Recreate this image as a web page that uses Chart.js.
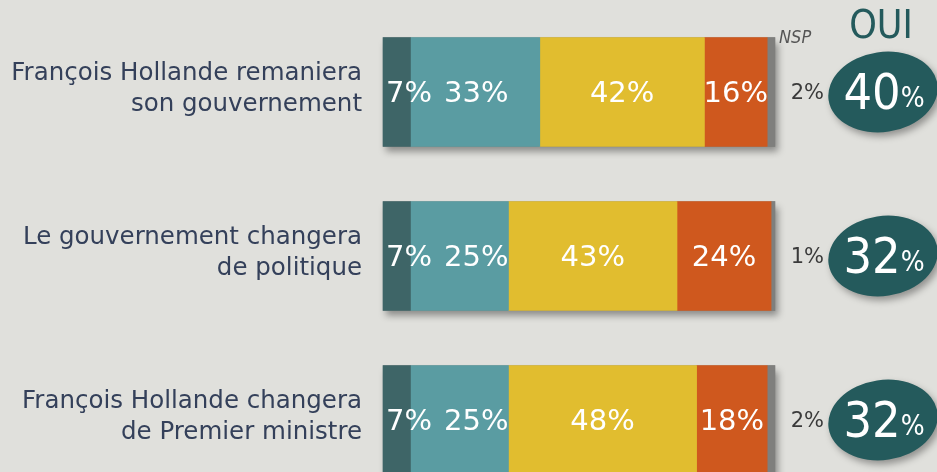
<!DOCTYPE html>
<html>
<head>
<meta charset="utf-8">
<script src="https://cdn.jsdelivr.net/npm/chart.js@4"></script>
<style>
  html, body { margin: 0; padding: 0; background: #e0e0dc; overflow: hidden; }
  #wrap { position: relative; width: 937px; height: 472px; }
</style>
</head>
<body>
<div id="wrap"><canvas id="myChart"></canvas></div>
<script>
// questions (two lines each)
const categories = [
  ['François Hollande remaniera', 'son gouvernement'],
  ['Le gouvernement changera', 'de politique'],
  ['François Hollande changera', 'de Premier ministre']
];
const seriesNames = ['Oui, tout à fait', 'Oui, plutôt', 'Non, plutôt pas', 'Non, pas du tout', 'NSP'];
const toutAFait = [7, 7, 7];
const plutotOui = [33, 25, 25];
const plutotNon = [42, 43, 48];
const pasDuTout = [16, 24, 18];
const nsp = [2, 1, 2];
const oui = [40, 32, 32];
const colors = ['#3e6567', '#5a9ca2', '#e1bd2f', '#cf581e', '#7f7f7d'];

const FONT = '"DejaVu Sans", Verdana, sans-serif';
const FONT_C = '"DejaVu Sans Condensed", "DejaVu Sans", sans-serif';

var
  _shadowPlugin = {
    id: 'barShadow',
    // one shadow behind each whole bar, drawn before the segments
    beforeDatasetsDraw: function (chart) {
      const ctx = chart.ctx;
      const x = chart.scales.x;
      const n = chart.data.datasets.length;
      ctx.save();
      ctx.shadowColor = 'rgba(0,0,0,0.38)';
      ctx.shadowBlur = 7;
      ctx.shadowOffsetX = 3;
      ctx.shadowOffsetY = 5;
      ctx.fillStyle = '#777';
      categories.forEach(function (c, i) {
        const first = chart.getDatasetMeta(0).data[i];
        const last = chart.getDatasetMeta(n - 1).data[i];
        const h = first.height;
        ctx.fillRect(first.base, first.y - h / 2, last.x - first.base, h);
      });
      ctx.restore();
    }
  }
  , _textPlugin = {
    id: 'texts',
    afterDraw: function (chart) {
      const ctx = chart.ctx;
      const x = chart.scales.x, y = chart.scales.y;
      ctx.save();
      // headers
      ctx.fillStyle = '#555555';
      ctx.font = 'italic 18px ' + FONT_C;
      ctx.textAlign = 'left';
      ctx.textBaseline = 'alphabetic';
      ctx.fillText('NSP', x.getPixelForValue(100) + 4, 43);
      ctx.fillStyle = '#245a5c';
      ctx.font = '39px ' + FONT_C;
      ctx.textAlign = 'center';
      ctx.fillText('OUI', 881, 38);

      categories.forEach(function (lines, i) {
        const cy = y.getPixelForValue(i);
        // question label
        ctx.fillStyle = '#34405a';
        ctx.font = '24.5px ' + FONT;
        ctx.textAlign = 'right';
        ctx.textBaseline = 'alphabetic';
        ctx.fillText(lines[0], 362, cy - 12);
        ctx.fillText(lines[1], 362, cy + 19);

        // segment labels
        ctx.fillStyle = '#ffffff';
        ctx.font = '29px ' + FONT;
        ctx.textBaseline = 'middle';
        let prevEnd = null;
        for (let d = 0; d < 4; d++) {
          const el = chart.getDatasetMeta(d).data[i];
          const txt = chart.data.datasets[d].data[i] + '%';
          const w = ctx.measureText(txt).width;
          let left;
          if (d === 0) {
            left = el.base + 3;
          } else {
            left = (el.base + el.x) / 2 - w / 2;
            if (prevEnd !== null && left < prevEnd + 12) left = prevEnd + 12;
          }
          ctx.textAlign = 'left';
          ctx.fillText(txt, left, cy + 2);
          prevEnd = left + w;
        }

        // NSP value
        ctx.fillStyle = '#3a3a3a';
        ctx.font = '21px ' + FONT;
        ctx.textAlign = 'right';
        ctx.fillText(nsp[i] + '%', 824, cy + 2);

        // OUI ellipse
        ctx.save();
        ctx.shadowColor = 'rgba(0,0,0,0.35)';
        ctx.shadowBlur = 7;
        ctx.shadowOffsetX = 3;
        ctx.shadowOffsetY = 4;
        ctx.fillStyle = '#245a5c';
        ctx.beginPath();
        ctx.ellipse(883, cy, 55, 40, -0.15, 0, Math.PI * 2);
        ctx.fill();
        ctx.restore();
        ctx.fillStyle = '#ffffff';
        ctx.textBaseline = 'alphabetic';
        ctx.font = '50px ' + FONT_C;
        const big = String(oui[i]);
        const small = '%';
        const wb = ctx.measureText(big).width;
        ctx.font = '28px ' + FONT_C;
        const ws = ctx.measureText(small).width;
        const sx = 884 - (wb + ws) / 2;
        ctx.textAlign = 'left';
        ctx.font = '50px ' + FONT_C;
        ctx.fillText(big, sx, cy + 17);
        ctx.font = '28px ' + FONT_C;
        ctx.fillText(small, sx + wb, cy + 15);
      });
      ctx.restore();
    }
  }
  , _createBarChart = function () {
    const ctx = document.getElementById('myChart');
    const series = [toutAFait, plutotOui, plutotNon, pasDuTout, nsp];
    new Chart(ctx, {
      type: 'bar',
      data: {
        labels: categories,
        datasets: series.map(function (values, k) {
          return {
            label: seriesNames[k],
            data: values,
            backgroundColor: colors[k],
            borderWidth: 0,
            barThickness: 109,
            clip: false
          };
        })
      },
      options: {
        indexAxis: 'y',
        responsive: false,
        animation: false,
        layout: { padding: { left: 383, right: 162, top: 92, bottom: 52 } },
        plugins: { legend: { display: false }, tooltip: { enabled: false } },
        scales: {
          x: { stacked: true, min: 0, max: 100, display: false },
          y: { stacked: true, offset: false, display: false }
        }
      },
      plugins: [_shadowPlugin, _textPlugin]
    });
  };

const cv = document.getElementById('myChart');
cv.width = 937; cv.height = 472;
_createBarChart();
</script>
</body>
</html>
